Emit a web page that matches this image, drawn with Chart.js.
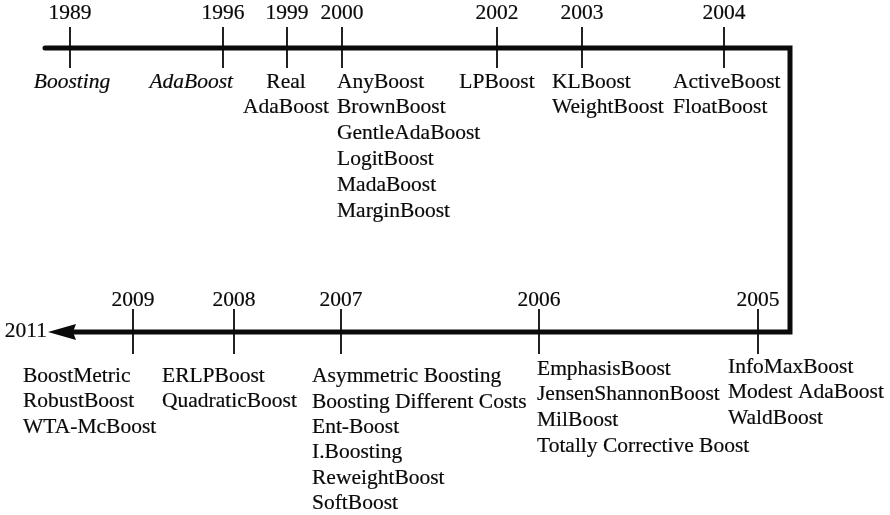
<!DOCTYPE html>
<html>
<head>
<meta charset="utf-8">
<script src="https://cdn.jsdelivr.net/npm/chart.js@4.4.1/dist/chart.umd.min.js"></script>
<style>
  html, body { margin: 0; padding: 0; background: #ffffff; overflow: hidden; }
  #wrap { width: 890px; height: 515px; position: relative; }
</style>
</head>
<body>
<div id="wrap"><canvas id="c"></canvas></div>
<script>
// ---- DATA ----
const years = ['1989', '1996', '1999', '2000', '2002', '2003', '2004',
               '2005', '2006', '2007', '2008', '2009'];
const methods = [
  ['Boosting'],
  ['AdaBoost'],
  ['Real', 'AdaBoost'],
  ['AnyBoost', 'BrownBoost', 'GentleAdaBoost', 'LogitBoost', 'MadaBoost', 'MarginBoost'],
  ['LPBoost'],
  ['KLBoost', 'WeightBoost'],
  ['ActiveBoost', 'FloatBoost'],
  ['InfoMaxBoost', 'Modest AdaBoost', 'WaldBoost'],
  ['EmphasisBoost', 'JensenShannonBoost', 'MilBoost', 'Totally Corrective Boost'],
  ['Asymmetric Boosting', 'Boosting Different Costs', 'Ent-Boost', 'I.Boosting', 'ReweightBoost', 'SoftBoost'],
  ['ERLPBoost', 'QuadraticBoost'],
  ['BoostMetric', 'RobustBoost', 'WTA-McBoost']
];
// position of each year along the timeline (x-scale units)
const yearPos = [70, 223, 287, 342, 497, 582, 724, 758, 539, 341, 234, 133];
// which leg of the timeline (0 = top, left→right; 1 = bottom, right→left)
const yearRow = [0, 0, 0, 0, 0, 0, 0, 1, 1, 1, 1, 1];
const endYear = '2011';

// ---- LAYOUT / STYLE ----
const frame = { startX: 45, cornerX: 790, topY: 48, bottomY: 332, arrowTipX: 48, arrowLen: 28, arrowH: 16 };
const tickExt = [{ up: 21, down: 20 }, { up: 23, down: 22 }];
const labelAlign = ['center', 'right', 'center', 'left', 'center', 'left', 'left',
                    'left', 'left', 'left', 'left', 'left'];
const labelX = [72, 233, 286, 337, 497, 552, 673, 728, 537, 312, 162, 23];
const labelY0 = [82, 82, 82, 82, 82, 82, 82, 367, 369, 376.5, 376.5, 376.5];
const lineGap = [25.8, 25.8, 25.8, 25.8, 25.8, 25.8, 25.8, 25.5, 25.7, 25.4, 25.3, 25.3];
const italicRows = [true, true, false, false, false, false, false, false, false, false, false, false];
const yearLabelY = [13.5, 300.5];
const FONT_FAMILY = '"Liberation Serif", "Times New Roman", serif';
const FONT_SIZE = 21.5;
const INK = '#0a0a0a';

// timeline path
const pathData = [
  { x: frame.startX, y: frame.topY },
  { x: frame.cornerX, y: frame.topY },
  { x: frame.cornerX, y: frame.bottomY },
  { x: frame.arrowTipX + frame.arrowLen - 4, y: frame.bottomY }
];

// tick marks built from the year positions
const tickData = [];
yearPos.forEach((p, i) => {
  const r = yearRow[i];
  const cy = r === 0 ? frame.topY : frame.bottomY;
  tickData.push({ x: p, y: cy - tickExt[r].up });
  tickData.push({ x: p, y: cy + tickExt[r].down });
  tickData.push({ x: null, y: null });
});

// arrow head image
const arrowImg = document.createElement('canvas');
arrowImg.width = frame.arrowLen;
arrowImg.height = frame.arrowH;
(function () {
  const g = arrowImg.getContext('2d');
  g.fillStyle = INK;
  g.beginPath();
  g.moveTo(0, frame.arrowH / 2);
  g.lineTo(frame.arrowLen, 0);
  g.lineTo(frame.arrowLen - 3, frame.arrowH / 2);
  g.lineTo(frame.arrowLen, frame.arrowH);
  g.closePath();
  g.fill();
})();

function drawText(ctx, s, x, y) {
  ctx.fillText(s, x, y);
  ctx.strokeText(s, x, y);
}

const labelPlugin = {
  id: 'timelineLabels',
  afterDatasetsDraw(chart) {
    const ctx = chart.ctx;
    const xs = chart.scales.x, ys = chart.scales.y;
    ctx.save();
    ctx.fillStyle = INK;
    ctx.strokeStyle = INK;
    ctx.lineWidth = 0.2;
    ctx.lineJoin = 'round';
    ctx.textBaseline = 'middle';
    ctx.font = FONT_SIZE + 'px ' + FONT_FAMILY;
    // year labels
    ctx.textAlign = 'center';
    years.forEach((y, i) => {
      drawText(ctx, y, xs.getPixelForValue(yearPos[i]), ys.getPixelForValue(yearLabelY[yearRow[i]]));
    });
    // end year
    ctx.textAlign = 'right';
    drawText(ctx, endYear, xs.getPixelForValue(frame.arrowTipX - 1), ys.getPixelForValue(frame.bottomY - 1));
    // method names
    methods.forEach((list, i) => {
      ctx.font = (italicRows[i] ? 'italic ' : '') + FONT_SIZE + 'px ' + FONT_FAMILY;
      ctx.textAlign = labelAlign[i];
      list.forEach((name, k) => {
        drawText(ctx, name, xs.getPixelForValue(labelX[i]),
          ys.getPixelForValue(labelY0[i] + k * lineGap[i]));
      });
    });
    ctx.restore();
  }
};

new Chart(document.getElementById('c'), {
  type: 'scatter',
  data: {
    datasets: [
      {
        data: pathData, showLine: true, borderColor: INK, borderWidth: 5,
        pointRadius: 0, borderJoinStyle: 'miter', borderCapStyle: 'round', tension: 0, clip: false
      },
      {
        data: tickData, showLine: true, spanGaps: false, borderColor: INK, borderWidth: 1.8,
        pointRadius: 0, tension: 0, clip: false
      },
      {
        data: [{ x: frame.arrowTipX + frame.arrowLen / 2, y: frame.bottomY }],
        pointStyle: arrowImg, pointRadius: 10, showLine: false, clip: false
      }
    ]
  },
  options: {
    responsive: true,
    maintainAspectRatio: false,
    animation: false,
    layout: { padding: 0, autoPadding: false },
    plugins: { legend: { display: false }, tooltip: { enabled: false } },
    events: [],
    scales: {
      x: { type: 'linear', min: 0, max: 890, display: false },
      y: { type: 'linear', min: 0, max: 515, reverse: true, display: false }
    }
  },
  plugins: [labelPlugin]
});
</script>
</body>
</html>
